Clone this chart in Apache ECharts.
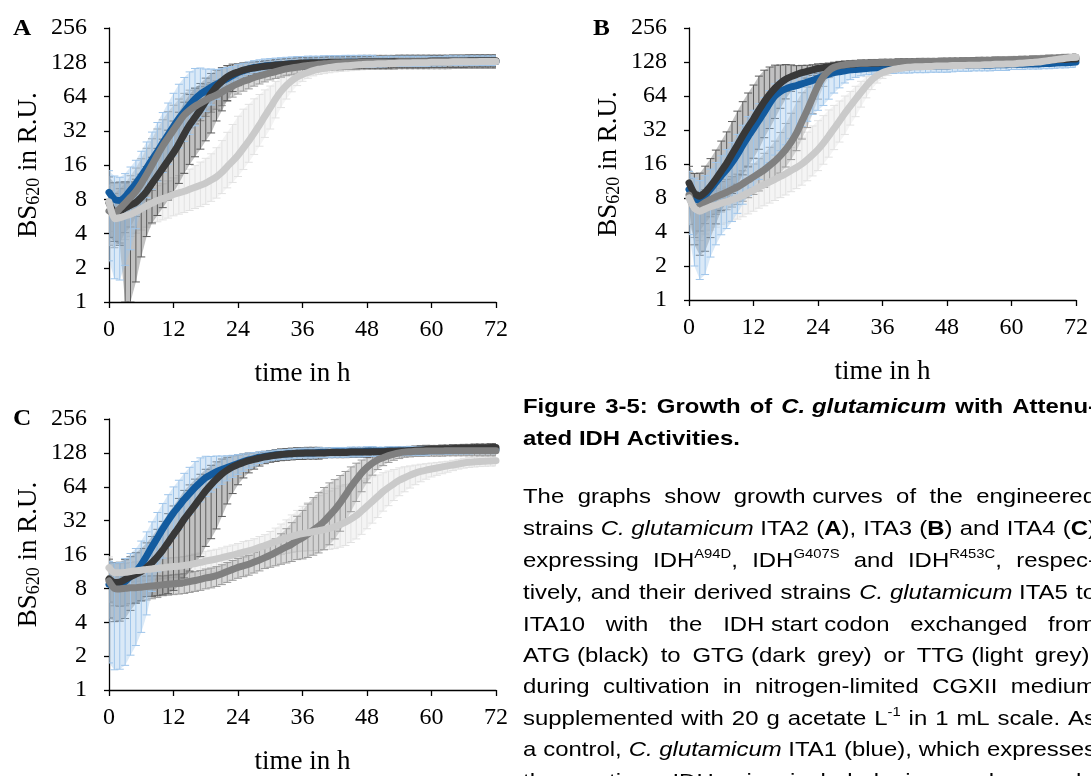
<!DOCTYPE html>
<html><head><meta charset="utf-8">
<script src="https://cdn.jsdelivr.net/npm/echarts@6/dist/echarts.min.js"></script>
<style>html,body{margin:0;padding:0;background:#fff}#c{width:1091px;height:776px}</style>
</head><body><div id="c"></div>
<script>
// ---------- DATA ----------
const T = [0,1,2,3,4,5,6,7,8,9,10,11,12,13,14,15,16,17,18,19,20,21,22,23,24,25,26,27,28,29,30,31,32,33,34,35,36,37,38,39,40,41,42,43,44,45,46,47,48,49,50,51,52,53,54,55,56,57,58,59,60,61,62,63,64,65,66,67,68,69,70,71,72];
const X_TICKS = [0,12,24,36,48,60,72];
const Y_TICKS = [1,2,4,8,16,32,64,128,256];

// Panel A (ITA2 family) – mean BS620
const A_blue = [9.2,8.0,7.8,8.4,9.6,11.0,12.8,15.0,17.8,21.0,25,29.5,35,41,47,54,61,67,72,77,82,87,92,98,104,108,112,115,117,119,120,121,122,123,124,125,125,126,126,126,127,127,127,127,128,128,128,128,128,128,128,128,129,129,129,129,129,129,129,129,129,129,129,130,130,130,130,130,130,130,130,130,130];
const A_black = [7.4,6.2,6.3,6.7,7.1,7.5,8.3,9.4,11.0,12.8,15.0,17.5,20.5,24.5,30,36,42,49,58,68,78,87,95,101,105,109,112,114,116,118,119,121,122,123,124,125,126,126,127,127,127,128,128,128,128,128,128,129,129,129,129,129,129,130,130,130,130,130,130,130,131,131,131,131,131,131,131,132,132,132,132,132,132];
const A_dgrey = [6.3,6.0,6.6,7.4,8.3,9.4,11.0,13.2,16.0,19.5,23.5,27.7,32.5,38,44,48.5,52.5,56,59.5,63,66,70,74.5,79,83,87,90,94,97,100,103,106,109,112,114,116,118,120,121,123,124,125,126,126,127,127,127,128,128,128,128,128,128,128,129,129,129,129,129,129,129,129,129,129,130,130,130,130,130,130,130,130,130];
const A_lgrey = [7.6,5.4,5.5,5.7,5.9,6.2,6.6,7.0,7.4,7.8,8.1,8.4,8.8,9.1,9.4,9.8,10.2,10.6,11.1,11.8,12.6,13.8,15.5,17.3,19.5,22.5,26,30.5,36,43,51,61,71,80,88,95,100,104,108,111,113,115,117,118,119,120,121,122,123,123,124,124,125,125,126,126,126,127,127,127,128,128,128,128,129,129,129,129,129,130,130,130,130];
// error bars, read as fractions of the mean: upper = mean*(1+up), lower = mean*(1-down)
const A_blue_up = [.55,.6,.6,.6,.6,.6,.65,.7,.75,.8, .85,.9,.95,1,1,.95,.85,.7,.55,.45, .35,.3,.25,.2,.18,.16,.15,.15,.15,.15, .15,.15,.15,.15,.15,.15,.15,.15,.15,.15, .15,.15,.15,.15,.15,.15,.15,.15,.15,.15, .12,.12,.12,.12,.12,.12,.12,.12,.12,.12, .12,.12,.12,.12,.12,.12,.12,.12,.12,.12, .12,.12,.12];
const A_blue_dn = [.75,.8,.8,.75,.7,.6,.5,.45,.45,.45, .45,.45,.45,.45,.45,.45,.42,.38,.34,.3, .26,.22,.19,.16,.14,.12,.11,.1,.1,.1, .1,.1,.1,.1,.1,.1,.1,.1,.1,.1, .1,.1,.1,.1,.1,.1,.1,.1,.1,.1, .09,.09,.09,.09,.09,.09,.09,.09,.09,.09, .08,.08,.08,.08,.08,.08,.08,.08,.08,.08, .08,.08,.08];
const A_black_up = [.7,.8,.8,.7,.6,.6,.6,.65,.7,.75, .8,.85,.9,.9,.9,.85,.8,.7,.6,.5, .4,.32,.26,.22,.18,.16,.14,.13,.12,.12, .12,.12,.12,.12,.12,.12,.12,.12,.12,.12, .12,.12,.12,.12,.12,.12,.12,.12,.12,.12, .12,.12,.12,.12,.12,.12,.12,.12,.12,.12, .12,.12,.12,.12,.12,.12,.12,.12,.12,.12, .12,.12,.12];
const A_black_dn = [.5,.45,.5,.9,.97,.8,.7,.6,.55,.55, .55,.55,.55,.55,.55,.55,.55,.55,.55,.55, .5,.45,.38,.3,.24,.2,.16,.14,.12,.12, .12,.12,.12,.12,.12,.12,.12,.12,.12,.12, .12,.12,.12,.12,.12,.12,.12,.12,.12,.12, .12,.12,.12,.12,.12,.12,.12,.12,.12,.12, .12,.12,.12,.12,.12,.12,.12,.12,.12,.12, .12,.12,.12];
const A_dgrey_up = [.5,.5,.5,.5,.55,.6,.65,.7,.7,.7, .7,.7,.65,.6,.55,.5,.45,.4,.38,.35, .33,.3,.28,.26,.24,.22,.2,.19,.18,.17, .15,.15,.15,.15,.15,.15,.15,.15,.15,.15, .15,.15,.15,.15,.15,.15,.15,.15,.15,.15, .15,.15,.15,.15,.15,.15,.15,.15,.15,.15, .15,.15,.15,.15,.15,.15,.15,.15,.15,.15, .15,.15,.15];
const A_dgrey_dn = [.5,.5,.5,.45,.45,.4,.4,.4,.4,.4, .4,.38,.36,.34,.32,.3,.3,.3,.28,.26, .25,.24,.22,.2,.19,.18,.17,.16,.15,.14, .13,.13,.13,.13,.13,.13,.13,.13,.13,.13, .13,.13,.13,.13,.13,.13,.13,.13,.13,.13, .13,.13,.13,.13,.13,.13,.13,.13,.13,.13, .13,.13,.13,.13,.13,.13,.13,.13,.13,.13, .13,.13,.13];
const A_lgrey_up = [.4,.35,.35,.35,.35,.35,.35,.35,.35,.35, .35,.38,.4,.42,.45,.5,.55,.6,.65,.7, .8,.9,1,1.1,1.2,1.2,1.1,1,.85,.7, .55,.42,.32,.25,.2,.16,.14,.12,.11,.1, .1,.1,.1,.1,.1,.1,.1,.1,.1,.1, .1,.1,.1,.1,.1,.1,.1,.1,.1,.1, .1,.1,.1,.1,.1,.1,.1,.1,.1,.1, .1,.1,.1];
const A_lgrey_dn = [.45,.4,.4,.38,.36,.35,.35,.35,.35,.35, .35,.35,.35,.35,.35,.35,.35,.35,.35,.35, .35,.35,.35,.35,.35,.35,.35,.35,.35,.35, .35,.32,.28,.24,.2,.16,.13,.11,.1,.1, .1,.1,.1,.1,.1,.1,.1,.1,.1,.1, .1,.1,.1,.1,.1,.1,.1,.1,.1,.1, .1,.1,.1,.1,.1,.1,.1,.1,.1,.1, .1,.1,.1];

// Panel B (ITA3 family)
const B_blue = [9.5,8.0,7.6,8.4,9.6,11.0,12.6,14.3,16.5,19.5,23.5,28,33,39,46,55,64,70,74,77,79,82,85,88,92,96,100,103,105,107,109,110,111,112,113,114,114,115,115,116,116,116,117,117,117,118,118,118,118,119,119,119,119,120,120,120,120,121,121,121,122,122,122,123,123,123,124,124,125,126,126,127,128];
const B_black = [10.9,8.8,8.3,9.0,10.2,11.8,13.8,16.2,19.5,23.5,28.5,34,40,48,57,66,75,83,90,95,99,103,106,109,112,114,116,118,120,121,122,123,124,124,125,125,126,126,126,127,127,127,127,128,128,128,128,128,128,129,129,129,129,130,130,130,130,131,131,131,131,132,132,132,133,133,133,134,134,135,135,136,136];
const B_dgrey = [8.5,6.5,6.8,7.3,7.8,8.2,8.6,9.0,9.5,10.0,10.7,11.5,12.3,13.2,14.2,15.5,17,19,21.5,25,30,38,48,62,79,95,107,115,119,121,123,124,125,125,126,126,127,127,127,128,128,128,128,129,129,129,129,130,130,130,130,131,131,131,132,132,132,133,133,133,134,134,135,135,136,136,137,138,138,139,140,140,141];
const B_lgrey = [8.0,6.5,6.1,6.4,6.7,6.9,7.2,7.4,7.7,8.0,8.4,8.9,9.4,10.0,10.5,11.1,11.7,12.4,13.1,14.0,14.9,16.0,17.5,19.3,21.5,24.5,28.3,33,38.5,45,52,60,69,79,89,97,103,107,110,112,114,115,116,116,117,117,118,118,118,119,119,119,120,120,120,121,121,122,122,123,123,124,125,126,127,128,130,132,134,136,138,140,141];
const B_blue_up = [.45,.5,.5,.5,.5,.5,.5,.5,.5,.5, .5,.5,.45,.4,.35,.3,.28,.26,.24,.22, .2,.2,.2,.2,.2,.18,.16,.15,.14,.13, .12,.12,.12,.12,.12,.12,.12,.12,.12,.12, .12,.12,.12,.12,.12,.12,.12,.12,.12,.12, .11,.11,.11,.11,.11,.11,.11,.11,.11,.11, .1,.1,.1,.1,.1,.1,.1,.1,.1,.1, .1,.1,.1];
const B_blue_dn = [.6,.75,.8,.8,.75,.72,.7,.7,.7,.7, .7,.7,.7,.7,.7,.7,.7,.7,.68,.65, .62,.58,.55,.5,.48,.45,.4,.34,.28,.22, .18,.15,.13,.12,.12,.12,.12,.12,.12,.12, .12,.12,.12,.12,.12,.12,.12,.12,.12,.12, .11,.11,.11,.11,.11,.11,.11,.11,.11,.11, .1,.1,.1,.1,.1,.1,.1,.1,.1,.1, .1,.1,.1];
const B_black_up = [.4,.5,.6,.7,.75,.8,.85,.9,.95,1, 1,1,1,1,.9,.75,.6,.45,.35,.27, .2,.16,.13,.11,.1,.09,.08,.08,.08,.08, .07,.07,.07,.07,.07,.07,.07,.07,.07,.07, .07,.07,.07,.07,.07,.07,.07,.07,.07,.07, .07,.07,.07,.07,.07,.07,.07,.07,.07,.07, .07,.07,.07,.07,.07,.07,.07,.07,.07,.07, .07,.07,.07];
const B_black_dn = [.4,.65,.7,.7,.65,.6,.55,.55,.55,.55, .55,.55,.55,.55,.52,.5,.46,.4,.33,.26, .2,.16,.13,.11,.1,.09,.08,.08,.08,.08, .07,.07,.07,.07,.07,.07,.07,.07,.07,.07, .07,.07,.07,.07,.07,.07,.07,.07,.07,.07, .07,.07,.07,.07,.07,.07,.07,.07,.07,.07, .07,.07,.07,.07,.07,.07,.07,.07,.07,.07, .07,.07,.07];
const B_dgrey_up = [.4,.4,.35,.3,.3,.3,.3,.3,.3,.3, .3,.3,.3,.35,.4,.45,.5,.6,.7,.8, .9,.8,.6,.45,.3,.2,.14,.1,.08,.07, .07,.07,.07,.07,.07,.07,.07,.07,.07,.07, .07,.07,.07,.07,.07,.07,.07,.07,.07,.07, .07,.07,.07,.07,.07,.07,.07,.07,.07,.07, .07,.07,.07,.07,.07,.07,.07,.07,.07,.07, .07,.07,.07];
const B_dgrey_dn = [.45,.45,.4,.35,.3,.3,.3,.3,.3,.3, .3,.3,.3,.3,.3,.3,.3,.3,.3,.3, .3,.3,.3,.28,.24,.18,.13,.1,.08,.07, .07,.07,.07,.07,.07,.07,.07,.07,.07,.07, .07,.07,.07,.07,.07,.07,.07,.07,.07,.07, .07,.07,.07,.07,.07,.07,.07,.07,.07,.07, .07,.07,.07,.07,.07,.07,.07,.07,.07,.07, .07,.07,.07];
const B_lgrey_up = [.35,.4,.4,.38,.36,.35,.35,.35,.35,.35, .35,.35,.35,.38,.4,.42,.45,.5,.55,.6, .65,.7,.75,.8,.8,.75,.7,.6,.5,.42, .35,.3,.25,.2,.16,.13,.1,.08,.07,.06, .06,.06,.06,.06,.06,.06,.06,.06,.06,.06, .06,.06,.06,.06,.06,.06,.06,.06,.06,.06, .06,.06,.06,.06,.06,.06,.06,.06,.06,.06, .06,.06,.06];
const B_lgrey_dn = [.4,.45,.45,.4,.38,.36,.35,.35,.35,.35, .35,.35,.35,.35,.35,.35,.35,.35,.35,.35, .35,.35,.35,.35,.35,.35,.35,.35,.35,.35, .32,.3,.26,.22,.18,.14,.11,.09,.07,.06, .06,.06,.06,.06,.06,.06,.06,.06,.06,.06, .06,.06,.06,.06,.06,.06,.06,.06,.06,.06, .06,.06,.06,.06,.06,.06,.06,.06,.06,.06, .06,.06,.06];

// Panel C (ITA4 family)
const C_blue = [8.7,8.4,8.5,9.2,10.2,11.3,13.0,15.5,18.8,22.5,27,32,37.5,43,49.5,56,63,70,77,82,87,91,95,99,103,107,111,114,117,119,121,123,124,125,126,127,128,128,128,129,129,129,130,130,130,131,131,131,132,132,132,132,133,133,133,133,134,134,134,134,135,135,135,135,136,136,136,136,137,137,137,137,137];
const C_black = [9.7,9.0,9.1,9.6,10.2,10.7,11.3,12.3,13.6,15.3,17.5,20.5,24,28,33,38,44,51,59,67,75,83,90,96,101,105,109,112,115,118,120,122,124,125,126,127,127,128,128,128,128,129,129,129,129,130,130,130,130,131,131,131,132,132,133,133,134,135,136,137,138,138,139,139,140,140,141,141,142,142,142,143,143];
const C_dgrey = [9.3,8.0,7.9,8.0,8.1,8.1,8.2,8.3,8.4,8.5,8.6,8.7,8.8,8.9,9.0,9.2,9.4,9.6,9.9,10.1,10.4,10.8,11.3,11.8,12.3,12.7,13.1,13.7,14.3,15.0,15.8,16.7,17.7,18.7,19.8,21.2,22.5,24.3,26.3,28.5,31.5,35.5,40,46,54,64,74,85,95,104,111,116,121,125,128,130,131,132,132,133,133,133,133,134,134,134,134,134,134,134,134,134,134];
const C_lgrey = [12.2,11.0,11.0,11.1,11.3,11.5,11.6,11.8,11.9,12.1,12.2,12.4,12.5,12.6,12.8,13.0,13.3,13.6,14.0,14.3,14.6,15.0,15.4,15.8,16.3,16.8,17.2,17.8,18.5,19.2,20,20.8,21.6,22.4,23.2,23.9,24.5,25.0,25.5,26,26.6,27.3,28.2,29.5,31,33,35.5,39,43,47.5,52.5,58,63,68,73,77,81,84.5,87.5,90,92,94,96,98,100,102,104,105.5,106.5,107.5,108,108.5,109];
const C_blue_up = [.6,.6,.6,.6,.6,.6,.62,.64,.66,.68, .68,.7,.7,.7,.7,.7,.7,.65,.55,.45, .38,.32,.27,.23,.2,.17,.15,.13,.12,.11, .1,.1,.1,.1,.1,.1,.1,.1,.1,.1, .1,.1,.1,.1,.1,.1,.1,.1,.1,.1, .09,.09,.09,.09,.09,.09,.09,.09,.09,.09, .08,.08,.08,.08,.08,.08,.08,.08,.08,.08, .08,.08,.08];
const C_blue_dn = [.8,.82,.82,.82,.8,.78,.75,.7,.6,.5, .45,.42,.4,.38,.36,.35,.34,.33,.32,.3, .28,.26,.24,.22,.2,.18,.16,.14,.12,.11, .1,.1,.1,.1,.1,.1,.1,.1,.1,.1, .1,.1,.1,.1,.1,.1,.1,.1,.1,.1, .09,.09,.09,.09,.09,.09,.09,.09,.09,.09, .08,.08,.08,.08,.08,.08,.08,.08,.08,.08, .08,.08,.08];
const C_black_up = [.5,.5,.5,.5,.5,.55,.6,.65,.7,.75, .8,.8,.8,.8,.8,.75,.7,.62,.55,.48, .42,.36,.3,.26,.22,.19,.17,.15,.13,.12, .12,.12,.12,.12,.12,.12,.12,.12,.12,.12, .1,.1,.1,.1,.1,.1,.1,.1,.1,.1, .09,.09,.09,.09,.09,.09,.09,.09,.09,.09, .08,.08,.08,.08,.08,.08,.08,.08,.08,.08, .08,.08,.08];
const C_black_dn = [.55,.55,.55,.55,.5,.45,.45,.45,.5,.55, .6,.65,.68,.7,.7,.7,.7,.7,.68,.67, .64,.58,.5,.42,.34,.27,.22,.18,.15,.13, .12,.12,.12,.12,.12,.12,.12,.12,.12,.12, .1,.1,.1,.1,.1,.1,.1,.1,.1,.1, .09,.09,.09,.09,.09,.09,.09,.09,.09,.09, .08,.08,.08,.08,.08,.08,.08,.08,.08,.08, .08,.08,.08];
const C_dgrey_up = [.3,.3,.3,.3,.28,.26,.25,.24,.23,.22, .2,.2,.2,.2,.2,.2,.2,.2,.2,.2, .2,.2,.2,.2,.2,.2,.2,.22,.24,.26, .28,.32,.38,.45,.55,.65,.75,.85,.95,1, 1,.95,.85,.75,.62,.5,.4,.3,.22,.17, .14,.12,.11,.1,.1,.1,.1,.1,.1,.1, .1,.1,.1,.1,.1,.1,.1,.1,.1,.1, .1,.1,.1];
const C_dgrey_dn = [.35,.3,.3,.3,.28,.26,.25,.24,.23,.22, .2,.2,.2,.2,.2,.2,.2,.2,.2,.2, .2,.2,.2,.2,.2,.2,.2,.2,.2,.2, .22,.24,.26,.28,.3,.32,.35,.38,.4,.42, .44,.45,.45,.44,.42,.4,.36,.32,.27,.22, .18,.15,.13,.12,.11,.1,.1,.1,.1,.1, .1,.1,.1,.1,.1,.1,.1,.1,.1,.1, .1,.1,.1];
const C_lgrey_up = [.25,.22,.2,.2,.2,.2,.2,.2,.2,.2, .2,.2,.2,.2,.2,.21,.21,.21,.22,.22, .22,.22,.23,.23,.23,.24,.24,.24,.25,.25, .28,.32,.38,.45,.55,.65,.75,.85,.95,1.05, 1.1,1.15,1.2,1.2,1.15,1.05,.95,.85,.75,.65, .55,.47,.4,.34,.29,.25,.21,.18,.16,.14, .13,.12,.11,.1,.1,.1,.1,.1,.1,.1, .1,.1,.1];
const C_lgrey_dn = [.25,.22,.2,.2,.2,.2,.2,.2,.2,.2, .2,.2,.2,.2,.2,.21,.21,.21,.22,.22, .22,.22,.23,.23,.23,.24,.24,.24,.25,.25, .25,.25,.26,.27,.28,.29,.3,.31,.32,.33, .34,.35,.36,.37,.38,.38,.38,.38,.37,.36, .35,.33,.31,.29,.27,.25,.23,.21,.19,.17, .15,.14,.13,.12,.11,.1,.1,.1,.1,.1, .1,.1,.1];

const PANEL_LETTERS = ['A','B','C'];
const CAPTION = [
  {j:true,  y:407, segs:[['b','Figure 3-5: Growth of '],['bi','C.\u00a0glutamicum'],['b',' with Attenu-']]},
  {j:false, y:439, segs:[['b','ated IDH Activities.']]},
  {j:true,  y:497, segs:[['n','The graphs show growth\u00a0curves of the engineered']]},
  {j:true,  y:529, segs:[['n','strains '],['i','C.\u00a0glutamicum'],['n','\u00a0ITA2 ('],['b','A'],['n','), ITA3 ('],['b','B'],['n',') and ITA4 ('],['b','C'],['n',')']]},
  {j:true,  y:561, segs:[['n','expressing IDH'],['sup','A94D'],['n',', IDH'],['sup','G407S'],['n',' and IDH'],['sup','R453C'],['n',', respec-']]},
  {j:true,  y:593, segs:[['n','tively, and their derived strains '],['i','C.\u00a0glutamicum'],['n','\u00a0ITA5 to']]},
  {j:true,  y:625, segs:[['n','ITA10 with the IDH\u00a0start\u00a0codon exchanged from']]},
  {j:true,  y:656, segs:[['n','ATG\u00a0(black) to GTG\u00a0(dark grey) or TTG\u00a0(light grey),']]},
  {j:true,  y:687, segs:[['n','during cultivation in nitrogen-limited CGXII medium']]},
  {j:true,  y:719, segs:[['n','supplemented with 20 g acetate L'],['sup','-1'],['n',' in 1 mL scale. As']]},
  {j:true,  y:750, segs:[['n','a control, '],['i','C.\u00a0glutamicum'],['n','\u00a0ITA1 (blue), which expresses']]},
  {j:true,  y:782, segs:[['n','the native IDH, is included in each graph.']]}
];

// ---------- LAYOUT / STYLE ----------
const SERIF = '"Liberation Serif","Times New Roman",serif';
const SANS = '"Liberation Sans",Arial,sans-serif';
const COLORS = {
  blue:  {line:'#135b9f', err:'#9fc5ea'},
  black: {line:'#383838', err:'#5c5c5c'},
  dgrey: {line:'#808080', err:'#9c9c9c'},
  lgrey: {line:'#cacaca', err:'#e2e2e2'}
};
const GRIDS = [
  {left:109, top:28, width:387, height:274},
  {left:689, top:28, width:388, height:272},
  {left:109, top:419, width:387, height:273}
];
const PANELS = [
  {blue:[A_blue,A_blue_up,A_blue_dn], black:[A_black,A_black_up,A_black_dn], dgrey:[A_dgrey,A_dgrey_up,A_dgrey_dn], lgrey:[A_lgrey,A_lgrey_up,A_lgrey_dn]},
  {blue:[B_blue,B_blue_up,B_blue_dn], black:[B_black,B_black_up,B_black_dn], dgrey:[B_dgrey,B_dgrey_up,B_dgrey_dn], lgrey:[B_lgrey,B_lgrey_up,B_lgrey_dn]},
  {blue:[C_blue,C_blue_up,C_blue_dn], black:[C_black,C_black_up,C_black_dn], dgrey:[C_dgrey,C_dgrey_up,C_dgrey_dn], lgrey:[C_lgrey,C_lgrey_up,C_lgrey_dn]}
];
const LETTER_POS = [[13,29],[593,29],[13,419]];
const TXT_SCALE_X = 1.14;

function bounds(m, up, dn){
  return [Math.max(m*(1-(dn||0)), 1), Math.min(m*(1+(up||0)), 256)];
}
function errRender(color, mean, up, dn){
  return function(params, api){
    const i = params.dataIndex;
    const t = api.value(0);
    const [lo, hi] = bounds(mean[i], up[i], dn[i]);
    const p1 = api.coord([t,hi]), p2 = api.coord([t,lo]);
    const w = 4, st = {stroke:color, lineWidth:1};
    const children = [];
    if (i < mean.length-1){
      const t2 = T[i+1];
      const [lo2, hi2] = bounds(mean[i+1], up[i+1], dn[i+1]);
      const q1 = api.coord([t2,hi2]), q2 = api.coord([t2,lo2]);
      children.push({type:'polygon', shape:{points:[p1,q1,q2,p2]},
        style:{fill:color, opacity:0.38}});
    }
    children.push(
      {type:'line', shape:{x1:p1[0],y1:p1[1],x2:p2[0],y2:p2[1]}, style:st},
      {type:'line', shape:{x1:p1[0]-w,y1:p1[1],x2:p1[0]+w,y2:p1[1]}, style:st},
      {type:'line', shape:{x1:p2[0]-w,y1:p2[1],x2:p2[0]+w,y2:p2[1]}, style:st}
    );
    return {type:'group', children};
  };
}

const xAxes = [], yAxes = [], series = [];
GRIDS.forEach((g,gi)=>{
  xAxes.push({
    type:'value', gridIndex:gi, min:0, max:72, interval:12,
    axisLine:{show:true, onZero:false, lineStyle:{color:'#000', width:1.3}},
    axisTick:{show:true, length:6, lineStyle:{color:'#000', width:1.3}},
    axisLabel:{fontFamily:SERIF, fontSize:24, color:'#000', margin:16,
      formatter:v=>X_TICKS.indexOf(v)>=0 ? String(v) : ''},
    splitLine:{show:false},
    name:'time in h', nameLocation:'middle', nameGap:58,
    nameTextStyle:{fontFamily:SERIF, fontSize:27, color:'#000'}
  });
  yAxes.push({
    type:'log', logBase:2, gridIndex:gi, min:1, max:256, splitNumber:8,
    axisLine:{show:true, lineStyle:{color:'#000', width:1.3}},
    axisTick:{show:true, length:5, lineStyle:{color:'#000', width:1.3}},
    axisLabel:{fontFamily:SERIF, fontSize:24, color:'#000', margin:22,
      formatter:v=>{const r=Math.round(v); return Y_TICKS.indexOf(r)>=0 ? String(r) : '';}},
    splitLine:{show:false},
    name:'{a|BS}{s|620}{a| in R.U.}', nameLocation:'middle', nameRotate:90, nameGap:66,
    nameTextStyle:{rich:{
      a:{fontFamily:SERIF, fontSize:27, color:'#000'},
      s:{fontFamily:SERIF, fontSize:18, color:'#000', padding:[11,0,0,0]}
    }}
  });
});
// error bars first (all panels), then the lines on top
const ERR_ORDER = ['lgrey','dgrey','black','blue'];
const LINE_ORDER = ['blue','black','dgrey','lgrey'];
GRIDS.forEach((g,gi)=>{
  const P = PANELS[gi];
  ERR_ORDER.forEach(k=>{
    const [mean, up, dn] = P[k];
    series.push({
      type:'custom', xAxisIndex:gi, yAxisIndex:gi, clip:true, silent:true,
      dimensions:['t','m'], encode:{x:0, y:1},
      renderItem: errRender(COLORS[k].err, mean, up, dn),
      data: T.map((t,i)=>[t, mean[i]])
    });
  });
  LINE_ORDER.forEach(k=>{
    const mean = P[k][0];
    series.push({
      type:'line', xAxisIndex:gi, yAxisIndex:gi, silent:true,
      showSymbol:false, symbol:'none', smooth:0.2,
      lineStyle:{color:COLORS[k].line, width:7, cap:'round', join:'round'},
      data: T.map((t,i)=>[t, mean[i]])
    });
  });
});

// ---------- caption (justified, slightly widened like the reference) ----------
const FONTS = {
  n:'21px '+SANS, i:'italic 21px '+SANS, b:'bold 21px '+SANS, bi:'italic bold 21px '+SANS, sup:'13px '+SANS
};
const ctx = document.createElement('canvas').getContext('2d');
function mw(st, txt){ ctx.font = FONTS[st]; return ctx.measureText(txt).width * TXT_SCALE_X; }
const CAP_LEFT = 523, CAP_RIGHT = 1096;
const graphics = [];
CAPTION.forEach(line=>{
  const words = []; let cur = [];
  line.segs.forEach(([st,txt])=>{
    const parts = txt.split(' ');
    parts.forEach((p,k)=>{
      if (k>0){ if (cur.length) words.push(cur); cur = []; }
      if (p !== '') cur.push([st,p]);
    });
  });
  if (cur.length) words.push(cur);
  const widths = words.map(w=>w.reduce((s,[st,t])=>s+mw(st,t),0));
  const total = widths.reduce((a,b)=>a+b,0);
  const baseSt = line.segs[0][0] === 'b' ? 'b' : 'n';
  let gap = mw(baseSt,' ');
  if (line.j && words.length > 1) gap = Math.max(gap, (CAP_RIGHT-CAP_LEFT-total)/(words.length-1));
  let x = CAP_LEFT;
  words.forEach((w,wi)=>{
    let xx = x;
    w.forEach(([st,t])=>{
      graphics.push({type:'text', x:xx, y: line.y + (st==='sup' ? -7 : 0), scaleX:TXT_SCALE_X, silent:true,
        style:{text:t, font:FONTS[st], fill:'#000', align:'left', verticalAlign:'middle',
               textAlign:'left', textVerticalAlign:'middle'}});
      xx += mw(st,t);
    });
    x += widths[wi] + gap;
  });
});
PANEL_LETTERS.forEach((L,i)=>{
  graphics.push({type:'text', x:LETTER_POS[i][0], y:LETTER_POS[i][1], scaleX:1.1, silent:true,
    style:{text:L, font:'bold 23px '+SERIF, fill:'#000', align:'left', verticalAlign:'middle',
           textAlign:'left', textVerticalAlign:'middle'}});
});

const chart = echarts.init(document.getElementById('c'), null, {renderer:'canvas'});
chart.setOption({
  animation:false,
  backgroundColor:'#fff',
  grid: GRIDS.map(g=>Object.assign({containLabel:false}, g)),
  xAxis: xAxes, yAxis: yAxes, series: series,
  graphic: graphics
});
</script></body></html>
